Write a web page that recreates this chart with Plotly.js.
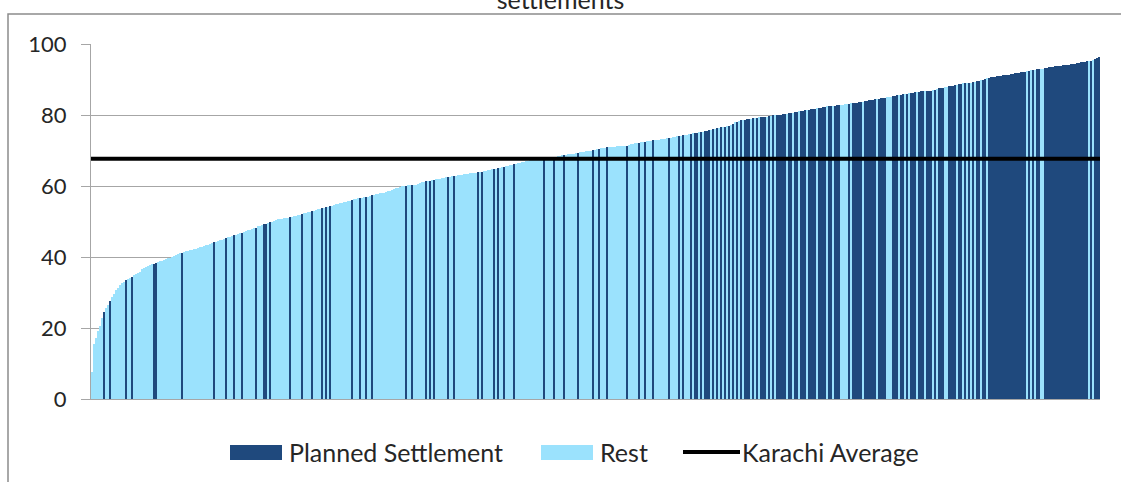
<!DOCTYPE html>
<html><head><meta charset="utf-8">
<script src="https://cdn.plot.ly/plotly-3.0.1.min.js"></script>
<style>html,body{margin:0;padding:0;background:#fff}#chart{width:1121px;height:482px}</style>
</head><body><div id="chart"></div>
<script>
// ---- data ----
const chartTitle = 'settlements';
const seriesNames = ['Planned Settlement', 'Rest', 'Karachi Average'];
const karachiAverage = 67.7;
const yTicks = [0, 20, 40, 60, 80, 100];

// settlement scores, sorted ascending
const settlementValues = [
7.7,15.5,17.2,19.2,20.5,22.8,24.6,25.6,26.6,27.6,28.6,29.7,30.6,31.3,32.1,32.6,33,33.4,33.8,34.2,34.5,34.8,35.1,35.4,
35.9,36.5,36.9,37.2,37.4,37.7,37.9,38.1,38.3,38.5,38.8,39,39.2,39.4,39.6,39.8,40,40.2,40.5,40.8,41,41.2,41.4,41.6,
41.8,42,42.1,42.2,42.3,42.5,42.7,42.9,43.1,43.3,43.5,43.7,43.9,44.1,44.3,44.5,44.7,44.9,45.1,45.3,45.5,45.7,45.9,46.1,
46.3,46.5,46.7,46.9,47.1,47.3,47.5,47.7,47.9,48.1,48.3,48.6,48.8,49,49.2,49.4,49.6,49.8,50,50.2,50.4,50.6,50.7,50.8,
50.9,51,51.1,51.2,51.3,51.5,51.6,51.8,51.9,52.1,52.3,52.5,52.6,52.8,52.9,53.1,53.3,53.4,53.6,53.8,53.9,54.1,54.2,54.4,
54.5,54.6,54.8,54.9,55.1,55.2,55.4,55.5,55.7,55.8,56,56.2,56.3,56.5,56.6,56.7,56.8,56.9,57,57.2,57.4,57.6,57.7,57.8,
57.9,58,58.1,58.3,58.5,58.7,58.9,59.1,59.3,59.5,59.7,59.9,60,60.1,60.2,60.2,60.3,60.3,60.4,60.6,60.9,61,61.2,61.3,
61.4,61.5,61.6,61.7,61.9,62,62.1,62.2,62.3,62.4,62.5,62.6,62.7,62.8,62.9,63,63.1,63.2,63.3,63.4,63.5,63.6,63.7,63.8,
63.8,63.9,63.9,64,64.2,64.3,64.5,64.6,64.7,64.8,64.9,65.1,65.2,65.3,65.4,65.5,65.7,65.8,66,66.1,66.3,66.4,66.6,66.8,
66.9,67,67.1,67.2,67.3,67.3,67.4,67.5,67.6,67.7,67.8,67.8,67.9,68,68.1,68.2,68.3,68.4,68.5,68.6,68.7,68.8,68.9,68.9,
69,69.1,69.2,69.4,69.5,69.6,69.7,69.8,69.9,70,70.1,70.2,70.4,70.5,70.6,70.7,70.8,70.9,71,71,71.1,71.1,71.2,71.2,
71.3,71.3,71.4,71.4,71.6,71.7,71.8,72,72.1,72.2,72.3,72.4,72.5,72.6,72.7,72.8,72.9,72.9,73,73.1,73.2,73.2,73.3,73.4,
73.5,73.6,73.7,73.9,74,74.1,74.2,74.3,74.4,74.5,74.6,74.7,74.8,74.9,75,75.1,75.2,75.3,75.5,75.6,75.8,75.9,76,76.1,
76.3,76.4,76.5,76.6,76.7,76.9,77,77.1,77.5,77.9,78.1,78.3,78.5,78.6,78.7,78.8,78.9,79,79.1,79.2,79.2,79.3,79.3,79.4,
79.4,79.5,79.6,79.8,79.9,79.9,80,80,80.1,80.2,80.3,80.4,80.5,80.6,80.7,80.8,80.9,81,81.1,81.2,81.3,81.4,81.5,81.6,
81.7,81.8,81.9,82,82.1,82.2,82.3,82.4,82.5,82.5,82.6,82.6,82.7,82.7,82.8,82.9,83,83.1,83.2,83.3,83.4,83.5,83.5,83.6,
83.7,83.8,83.9,84,84.1,84.2,84.3,84.4,84.5,84.6,84.7,84.8,84.9,85,85.1,85.2,85.3,85.4,85.5,85.6,85.7,85.8,85.9,86,
86.1,86.2,86.3,86.4,86.5,86.6,86.7,86.7,86.8,86.8,86.9,86.9,87,87.1,87.3,87.5,87.6,87.7,87.8,87.9,88.1,88.2,88.3,88.4,
88.5,88.7,88.8,88.9,88.9,89,89,89.1,89.2,89.4,89.5,89.7,89.8,90,90.2,90.4,90.5,90.6,90.7,90.8,90.9,91,91.1,91.2,
91.3,91.4,91.4,91.5,91.6,91.7,91.8,91.9,92,92.1,92.2,92.3,92.5,92.6,92.7,92.8,92.9,92.9,93,93.1,93.2,93.3,93.4,93.5,
93.6,93.7,93.8,93.8,93.9,94,94.1,94.2,94.2,94.3,94.4,94.5,94.6,94.7,94.8,94.9,95,95.1,95.2,95.3,95.5,95.8,96,96.3
];

// settlement type for each value above: p = Planned Settlement, r = Rest
const settlementTypes = [
'rrrrrrprrprrrrrrrprrprrr',
'rrrrrrrpprrrrrrrrrrrrprr',
'rrrrrrrrrrrrrprrrrrprrrp',
'rrrprrrrrrprrrpprprrrrrr',
'rrrprrrrrprrrrprrrrprprp',
'rrrrrrrrrrprrrprrprrprrr',
'rrrrrrrrrrrrrprrprrrrrrp',
'rprprrrrrrprrprrrrrrrrrr',
'rprprrrrrprprrprrrrprrrr',
'rrrrrrrrrrprrrrprrrrprrr',
'rrrprrrrrrprrprrrprrrrrr',
'rrrprrrrrprrprrrprrrrrrr',
'prrrrprprrrprpprprppprpr',
'prprprprprprprppprprprpp',
'prprprppppprpprpprppprpp',
'pprpppprpprppprrrrprpppp',
'prpppppprpppprrrppprpprp',
'rppprppprppprprppprrpppp',
'rpprprprprpprpprpppppppp',
'ppppppppppprprprpprrpppp',
'pppppppppppppppppprprppp'
].join('');

if (settlementValues.length !== settlementTypes.length) {
  throw new Error('length mismatch ' + settlementValues.length + ' vs ' + settlementTypes.length);
}

// ---- styles ----
const darkBlue = '#1F497D';
const lightBlue = '#9BE2FD';
const gridGrey = '#A6A6A6';
const textColor = '#262626';
const fontFamily = 'Lato, "Open Sans", sans-serif';

const plannedX = [], plannedY = [], restX = [], restY = [];
settlementValues.forEach((v, i) => {
  if (settlementTypes[i] === 'p') { plannedX.push(i); plannedY.push(v); }
  else { restX.push(i); restY.push(v); }
});
const n = settlementValues.length;

const traces = [
  { type: 'bar', name: seriesNames[1], x: restX, y: restY, width: 1,
    marker: { color: lightBlue, line: { width: 0 } }, showlegend: false, hoverinfo: 'skip' },
  { type: 'bar', name: seriesNames[0], x: plannedX, y: plannedY, width: 1,
    marker: { color: darkBlue, line: { width: 0 } }, showlegend: false, hoverinfo: 'skip' },
  { type: 'scatter', mode: 'lines', name: seriesNames[2],
    x: [-0.5, n - 0.5], y: [karachiAverage, karachiAverage],
    line: { color: '#000000', width: 4 }, showlegend: false, hoverinfo: 'skip', cliponaxis: false }
];

// manual legend (pixel positions converted to paper coordinates)
const L = 91, T = 44, W = 1009, H = 355;
const px = x => (x - L) / W;
const py = y => (T + H - y) / H;
const legendY = py(452);

const shapes = [
  { type: 'rect', xref: 'paper', yref: 'paper', x0: px(8), x1: px(1135), y0: py(500), y1: py(14),
    line: { color: '#8C8C8C', width: 1.5 }, fillcolor: 'rgba(0,0,0,0)', layer: 'below' },
  { type: 'rect', xref: 'paper', yref: 'paper', x0: px(230), x1: px(282), y0: py(460), y1: py(445),
    line: { width: 0 }, fillcolor: darkBlue },
  { type: 'rect', xref: 'paper', yref: 'paper', x0: px(541), x1: px(593), y0: py(460), y1: py(445),
    line: { width: 0 }, fillcolor: lightBlue },
  { type: 'line', xref: 'paper', yref: 'paper', x0: px(683), x1: px(740), y0: legendY, y1: legendY,
    line: { color: '#000000', width: 4 } }
];

const legendFont = { family: fontFamily, size: 25, color: textColor };
const annotations = [
  { text: seriesNames[0], x: px(287), y: legendY, xanchor: 'left', yanchor: 'middle' },
  { text: seriesNames[1], x: px(598), y: legendY, xanchor: 'left', yanchor: 'middle' },
  { text: seriesNames[2], x: px(740), y: legendY, xanchor: 'left', yanchor: 'middle' }
].map(a => Object.assign({ xref: 'paper', yref: 'paper', showarrow: false, font: legendFont }, a));

const layout = {
  width: 1121, height: 482,
  margin: { l: L, r: 1121 - L - W, t: T, b: 482 - T - H, pad: 0 },
  paper_bgcolor: '#FFFFFF', plot_bgcolor: '#FFFFFF',
  font: { family: fontFamily, color: textColor },
  title: { text: chartTitle, font: { family: fontFamily, size: 25, color: textColor },
           xref: 'container', x: 0.5, xanchor: 'center', yref: 'container', y: 1, yanchor: 'middle' },
  barmode: 'overlay', bargap: 0,
  showlegend: false,
  xaxis: { range: [-0.5, n - 0.5], showticklabels: false, ticks: '', showgrid: false,
           zeroline: false, showline: true, linecolor: gridGrey, linewidth: 1, fixedrange: true },
  yaxis: { range: [0, 100], tickvals: yTicks, ticktext: yTicks.map(String), ticks: 'outside', ticklen: 9,
           tickcolor: gridGrey, tickwidth: 1, showgrid: true, gridcolor: gridGrey, gridwidth: 1,
           showline: true, linecolor: gridGrey, linewidth: 1, zeroline: false,
           tickfont: { family: fontFamily, size: 22, color: textColor }, ticklabelstandoff: 10, fixedrange: true },
  shapes: shapes,
  annotations: annotations
};

Plotly.newPlot('chart', traces, layout, { staticPlot: true, displayModeBar: false });
</script>
</body></html>
